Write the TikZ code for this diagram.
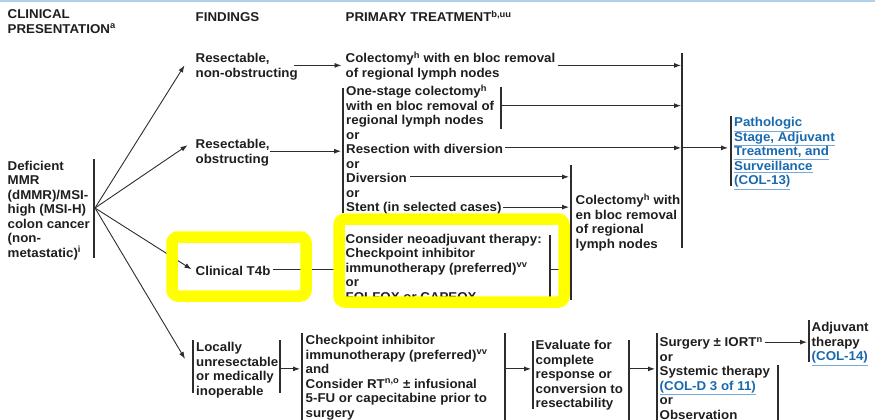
\documentclass[tikz,border=0pt]{standalone}
\usepackage{fontspec}
\setmainfont{Liberation Sans}[FakeStretch=1.04]
\usetikzlibrary{arrows.meta, positioning}
\definecolor{inkgray}{RGB}{30,30,30}
\definecolor{linegray}{RGB}{45,45,45}
\definecolor{linkblue}{RGB}{25,105,175}
\definecolor{linkline}{RGB}{120,170,215}
\definecolor{rulelight}{RGB}{175,210,232}
\definecolor{hlyellow}{RGB}{255,255,0}
\newcommand{\colref}[1]{{\color{linkline}\underline{\textcolor{linkblue}{#1}}}}
\newcommand{\fn}[1]{\textsuperscript{#1}}
\newcommand{\fl}{\rule{0pt}{12pt}}

\begin{document}
\begin{tikzpicture}[
    x=1pt, y=-1pt,
    txt/.style={anchor=north west, inner sep=0pt, align=left, text=inkgray,
        font=\fontsize{12.8}{14.5}\selectfont\bfseries},
    bar/.style={draw=linegray, line width=1.1pt},
    arr/.style={draw=linegray, line width=0.9pt, -{Latex[length=7pt,width=5pt]}},
    hilite/.style={draw=hlyellow, line width=11.5pt, rounded corners=6pt}
]
    \useasboundingbox (0,0) rectangle (875,420);
    \draw[rulelight, line width=1.5pt] (0,1) -- (875,1);

    % column heads
    \node[txt] (hclin) at (7.5,6.6) {\fl CLINICAL\\PRESENTATION\fn{a}};
    \node[txt] (hfind) at (195.5,9.6) {\fl FINDINGS};
    \node[txt] (hprim) at (345.5,9.6) {\fl PRIMARY TREATMENT\fn{b,uu}};

    % presentation
    \node[txt] (dmmr) at (7.5,158) {\fl Deficient\\MMR\\(dMMR)/MSI-\\high (MSI-H)\\colon cancer\\(non-\\metastatic)\fn{i}};
    \coordinate (fan) at (95,208);
    \draw[bar] (94,159) -- (94,258);

    % findings
    \node[txt] (resnon) at (195.5,50.6) {\fl Resectable,\\non-obstructing};
    \node[txt] (resobs) at (195.5,136.4) {\fl Resectable,\\obstructing};
    \node[txt] (t4b) at (195.5,263) {\fl Clinical T4b};
    \node[txt] (locun) at (196,339.6) {\fl Locally\\unresectable\\or medically\\inoperable};

    \draw[arr] (fan) -- ([xshift=-11pt]resnon.west);
    \draw[arr] (fan) -- ([xshift=-8pt,yshift=6pt]resobs.west);
    \draw[arr] (fan) -- ([xshift=-4pt]t4b.west);
    \draw[arr] (fan) -- ([xshift=-11pt,yshift=10pt]locun.west);

    % primary treatment
    \node[txt] (col1) at (345.5,50.6) {\fl Colectomy\fn{h} with en bloc removal\\of regional lymph nodes};
    \node[txt] (onest) at (346,83.6) {\fl One-stage colectomy\fn{h}\\with en bloc removal of\\regional lymph nodes};
    \node[txt] (or1) at (346,127.1) {\fl or};
    \node[txt] (resdiv) at (346,141.6) {\fl Resection with diversion};
    \node[txt] (or2) at (346,156.1) {\fl or};
    \node[txt] (divn) at (346,170.6) {\fl Diversion};
    \node[txt] (or3) at (346,185.1) {\fl or};
    \node[txt] (stent) at (346,199.6) {\fl Stent (in selected cases)};
    \node[txt] (colb) at (575.5,192.6) {\fl Colectomy\fn{h} with\\en bloc removal\\of regional\\lymph nodes};
    \node[txt] (neo) at (345.5,231) {\fl Consider neoadjuvant therapy:\\Checkpoint inhibitor\\immunotherapy (preferred)\fn{vv}\\or\\FOLFOX or CAPEOX};
    \node[txt] (path) at (734,114.6) {\fl\colref{Pathologic}\\\colref{Stage, Adjuvant}\\\colref{Treatment, and}\\\colref{Surveillance}\\\colref{(COL-13)}};

    \coordinate (pbar) at (343,88);
    \coordinate (osbar) at (501,87);
    \coordinate (bigbar) at (682,53);
    \coordinate (pathbar) at (731,116);
    \coordinate (colbar) at (571,165);
    \coordinate (neobar) at (550,235);
    \draw[bar] (pbar) -- (343,213);
    \draw[bar] (osbar) -- (501,129);
    \draw[bar] (bigbar) -- (682,248);
    \draw[bar] (pathbar) -- (731,186);
    \draw[bar] (colbar) -- (571,300);
    \draw[bar] (neobar) -- (550,305);

    \draw[arr, shorten <=-4pt, shorten >=4pt] (resnon.east) -- (col1.west);
    \draw[arr, shorten >=2pt] (resobs.east) -- (pbar |- resobs.east);
    \draw[arr, shorten <=2pt, shorten >=1pt] (col1.east) -- (bigbar |- col1.east);
    \draw[arr, shorten >=1pt] (osbar |- onest.east) -- (bigbar |- onest.east);
    \draw[arr, shorten <=2pt, shorten >=1pt] (resdiv.east) -- (bigbar |- resdiv.east);
    \draw[arr, shorten >=3pt] (bigbar |- resdiv.east) -- (pathbar |- resdiv.east);
    \draw[arr, shorten <=3pt, shorten >=2pt] (divn.east) -- (colbar |- divn.east);
    \draw[arr, shorten <=1pt, shorten >=2pt] (stent.east) -- (colbar |- stent.east);
    \draw[arr, shorten <=2pt, shorten >=4pt] (t4b.east) -- (neo.west |- t4b.east);
    \draw[bar, line width=0.9pt] (neobar |- t4b.east) -- (colbar |- t4b.east);

    % unresectable branch
    \node[txt] (chk) at (305.5,332.6) {\fl Checkpoint inhibitor\\immunotherapy (preferred)\fn{vv}\\and\\Consider RT\fn{n,o} ± infusional\\5-FU or capecitabine prior to\\surgery};
    \node[txt] (eval) at (535.5,337.6) {\fl Evaluate for\\complete\\response or\\conversion to\\resectability};
    \node[txt] (surg) at (659.5,334.6) {\fl Surgery ± IORT\fn{n}};
    \node[txt] (surgalt) at (659.5,349.1) {\fl or\\Systemic therapy\\\colref{(COL-D 3 of 11)}\\or\\Observation};
    \node[txt] (adj) at (811.5,319.6) {\fl Adjuvant\\therapy\\\colref{(COL-14)}};

    \coordinate (locl) at (193,340);
    \coordinate (locr) at (280,340);
    \coordinate (chkl) at (302,333);
    \coordinate (chkr) at (505,333);
    \coordinate (evall) at (533,341);
    \coordinate (evalr) at (629,340);
    \coordinate (surgl) at (657,333);
    \coordinate (surgr) at (778,365);
    \coordinate (adjl) at (809,320);
    \draw[bar] (locl) -- (193,393);
    \draw[bar] (locr) -- (280,393);
    \draw[bar] (chkl) -- (302,420);
    \draw[bar] (chkr) -- (505,420);
    \draw[bar] (evall) -- (533,409);
    \draw[bar] (evalr) -- (629,420);
    \draw[bar] (surgl) -- (657,420);
    \draw[bar] (surgr) -- (778,420);
    \draw[bar] (adjl) -- (809,362);

    \draw[arr, shorten >=2pt] (locr |- locun.east) -- (chkl |- locun.east);
    \draw[arr, shorten >=2pt] (chkr |- locun.east) -- (evall |- locun.east);
    \draw[arr, shorten >=2pt] (evalr |- locun.east) -- (surgl |- locun.east);
    \draw[arr, shorten <=2pt, shorten >=2pt] (surg.east) -- (adjl |- surg.east);

    % highlight frames
    \draw[hilite] (172,237) rectangle (306,296);
    \draw[hilite] (339,219) rectangle (564,302);
\end{tikzpicture}
\end{document}
